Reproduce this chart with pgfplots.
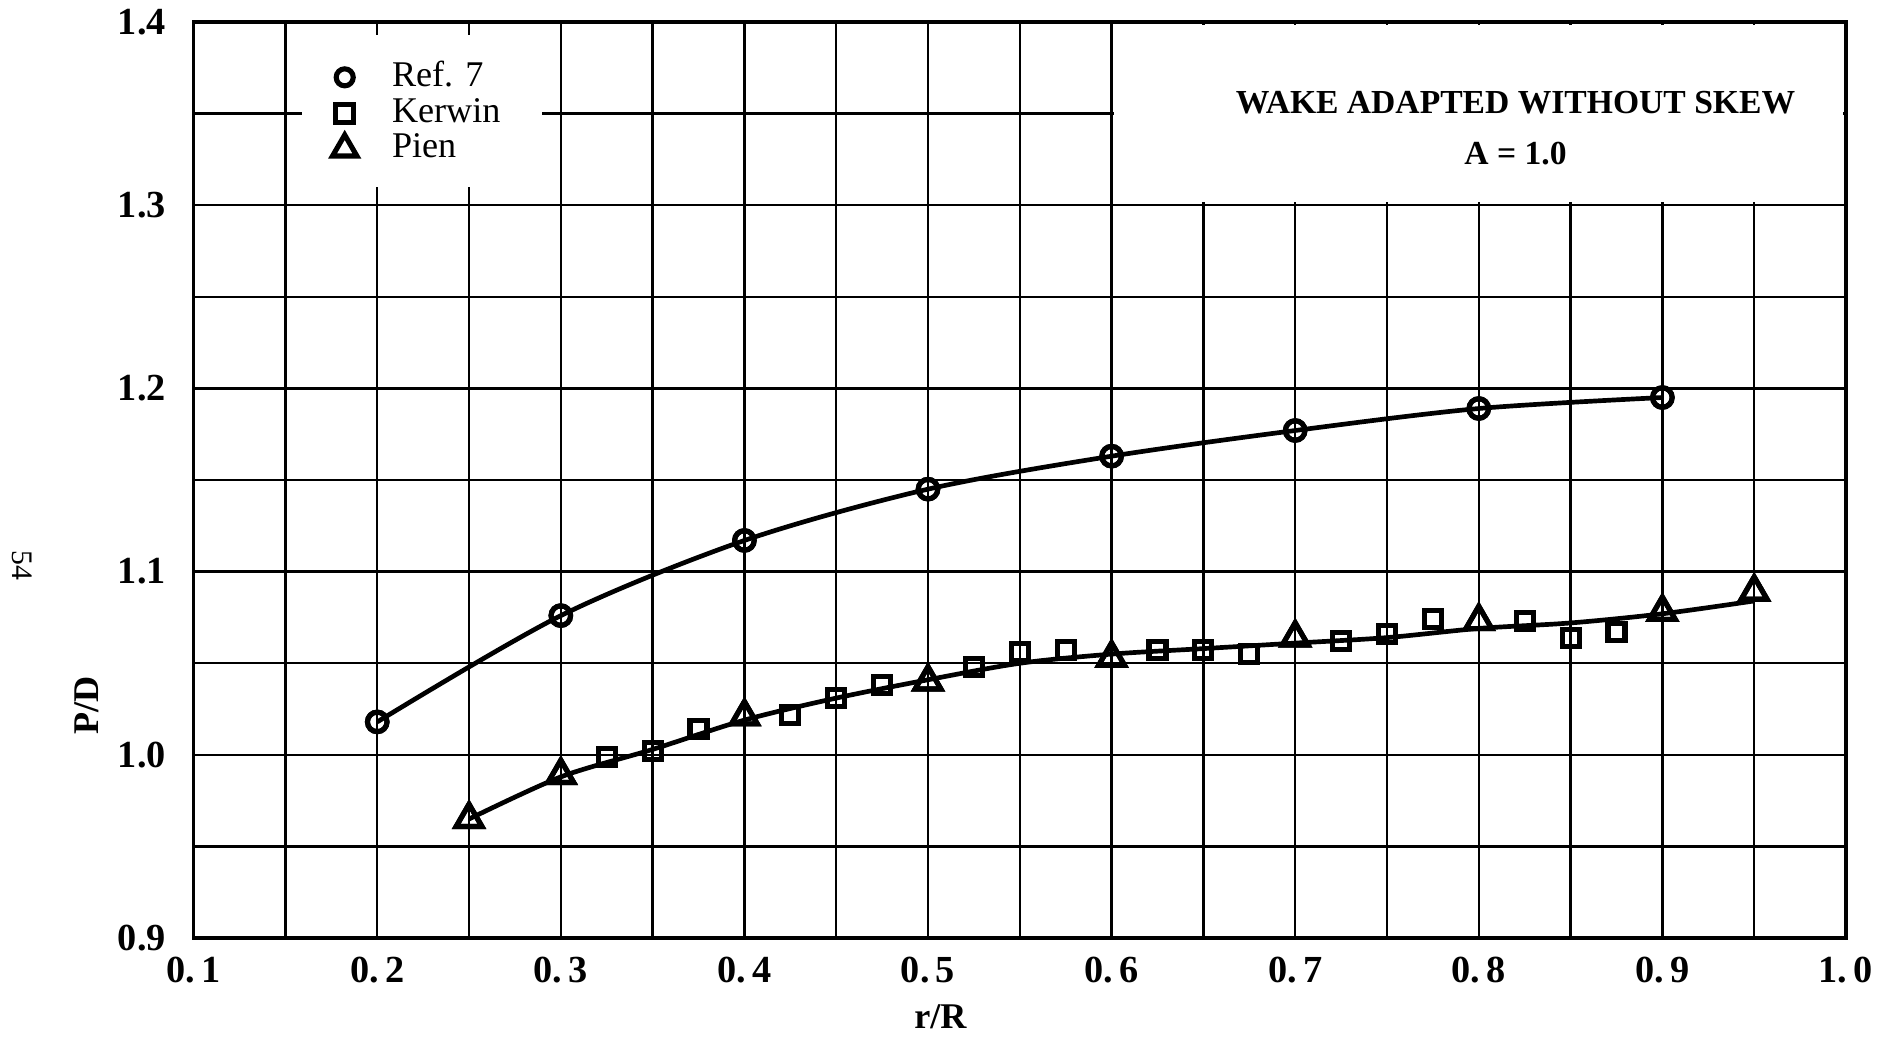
\documentclass[border=0pt]{standalone}
\usepackage{pgfplots}
\pgfplotsset{compat=1.18}
\usepackage{fontspec}
\setmainfont{Liberation Serif}

\begin{document}
\begin{tikzpicture}
\begin{axis}[
    scale only axis,
    width=13.65cm, height=7.57cm,
    xmin=0.1, xmax=1.0,
    ymin=0.9, ymax=1.4,
    clip=false,
    xtick={0.1,0.2,...,1.0},
    minor xtick={0.15,0.25,...,0.95},
    ytick={0.9,1.0,...,1.4},
    minor ytick={0.95,1.05,...,1.35},
    xticklabels={0.\,1,0.\,2,0.\,3,0.\,4,0.\,5,0.\,6,0.\,7,0.\,8,0.\,9,1.\,0},
    yticklabels={0.9,1.0,1.1,1.2,1.3,1.4},
    grid=both,
    major grid style={black, line width=0.55pt},
    minor grid style={black, line width=0.55pt},
    major tick length=0pt, minor tick length=0pt,
    axis line style={line width=0.8pt},
    ticklabel style={font=\bfseries\fontsize{9}{10}\selectfont},
    xticklabel style={yshift=-1pt},
    yticklabel style={xshift=-3pt},
    xlabel={r/R},
    ylabel={P/D},
    label style={font=\bfseries\fontsize{8.5}{10}\selectfont},
    xlabel style={at={(rel axis cs:0.452,-0.086)}, anchor=center},
    ylabel style={at={(rel axis cs:-0.0645,0.2536)}, anchor=center, rotate=0},
    legend style={at={(axis cs:0.1752,1.3835)}, anchor=north west, draw=none, fill=none,
        font=\fontsize{8.5}{9}\selectfont, row sep=-2.8pt, column sep=0.22cm,
        inner xsep=0pt, inner ysep=0pt},
    legend cell align=left,
]

% white boxes for legend and title
\fill[white] (axis cs:0.159,1.31) rectangle (axis cs:0.290,1.393);
\fill[white] (axis cs:0.6015,1.3015) rectangle (axis cs:0.9985,1.3985);
\draw[line width=0.55pt] (axis cs:0.6,1.3) -- (axis cs:0.6,1.4);
\draw[line width=0.55pt] (axis cs:0.6,1.3) -- (axis cs:1.0,1.3);
\draw[line width=0.8pt] (rel axis cs:0,0) rectangle (rel axis cs:1,1);

% Ref. 7
\addplot[only marks, mark=o, mark size=2.3pt, mark options={line width=1.2pt, fill=white},
    legend image post style={mark size=2pt}] coordinates {
    (0.2,1.018) (0.3,1.076) (0.4,1.117) (0.5,1.145) (0.6,1.163) (0.7,1.177) (0.8,1.189) (0.9,1.195)
};
\addlegendentry{Ref. 7}

% Kerwin
\addplot[only marks, mark=square, mark size=2pt, mark options={line width=1.2pt, fill=white},
    legend image post style={mark size=2.1pt}] coordinates {
    (0.325,0.999) (0.35,1.002) (0.375,1.014) (0.425,1.022) (0.45,1.031) (0.475,1.038)
    (0.525,1.048) (0.55,1.056) (0.575,1.057) (0.625,1.057) (0.65,1.057) (0.675,1.055)
    (0.725,1.062) (0.75,1.066) (0.775,1.074) (0.825,1.073) (0.85,1.064) (0.875,1.067)
};
\addlegendentry{Kerwin}

% Pien
\addplot[only marks, mark=triangle, mark size=3.5pt, mark options={line width=1.2pt, fill=white},
    legend image post style={mark size=3.3pt}] coordinates {
    (0.25,0.965) (0.3,0.989) (0.4,1.021) (0.5,1.040) (0.6,1.053) (0.7,1.064) (0.8,1.073) (0.9,1.078) (0.95,1.089)
};
\addlegendentry{Pien}

% faired curves
\addplot[smooth, line width=1.1pt, forget plot] coordinates {
    (0.2,1.018) (0.3,1.076) (0.4,1.117) (0.5,1.145) (0.6,1.163) (0.7,1.177) (0.8,1.189) (0.9,1.195)
};
\addplot[smooth, line width=1.1pt, forget plot] coordinates {
    (0.25,0.965) (0.3,0.988) (0.35,1.003) (0.4,1.019) (0.45,1.031) (0.5,1.041) (0.55,1.050)
    (0.6,1.055) (0.65,1.058) (0.7,1.061) (0.75,1.064) (0.8,1.069) (0.85,1.072) (0.9,1.077) (0.95,1.084)
};

% redraw markers above the curves
\addplot[only marks, mark=o, mark size=2.3pt, mark options={line width=1.2pt, fill=white}, forget plot] coordinates {
    (0.2,1.018) (0.3,1.076) (0.4,1.117) (0.5,1.145) (0.6,1.163) (0.7,1.177) (0.8,1.189) (0.9,1.195)
};
\addplot[only marks, mark=triangle, mark size=3.5pt, mark options={line width=1.2pt, fill=white}, forget plot] coordinates {
    (0.25,0.965) (0.3,0.989) (0.4,1.021) (0.5,1.040) (0.6,1.053) (0.7,1.064) (0.8,1.073) (0.9,1.078) (0.95,1.089)
};
\addplot[only marks, mark=square, mark size=2pt, mark options={line width=1.2pt, fill=white}, forget plot] coordinates {
    (0.325,0.999) (0.35,1.002) (0.375,1.014) (0.425,1.022) (0.45,1.031) (0.475,1.038)
    (0.525,1.048) (0.55,1.056) (0.575,1.057) (0.625,1.057) (0.65,1.057) (0.675,1.055)
    (0.725,1.062) (0.75,1.066) (0.775,1.074) (0.825,1.073) (0.85,1.064) (0.875,1.067)
};

\node[font=\bfseries\fontsize{7.9}{10}\selectfont] at (axis cs:0.82,1.356) {WAKE ADAPTED WITHOUT SKEW};
\node[font=\bfseries\fontsize{7.9}{10}\selectfont] at (axis cs:0.82,1.328) {A = 1.0};
\node[font=\fontsize{7}{8}\selectfont, rotate=-90] at (rel axis cs:-0.104,0.407) {54};

\coordinate (bbsw) at (rel axis cs:-0.1172,-0.1083);
\coordinate (bbne) at (rel axis cs:1.0315,1.0238);
\end{axis}
\pgfresetboundingbox
\path (bbsw) rectangle (bbne);
\end{tikzpicture}
\end{document}
